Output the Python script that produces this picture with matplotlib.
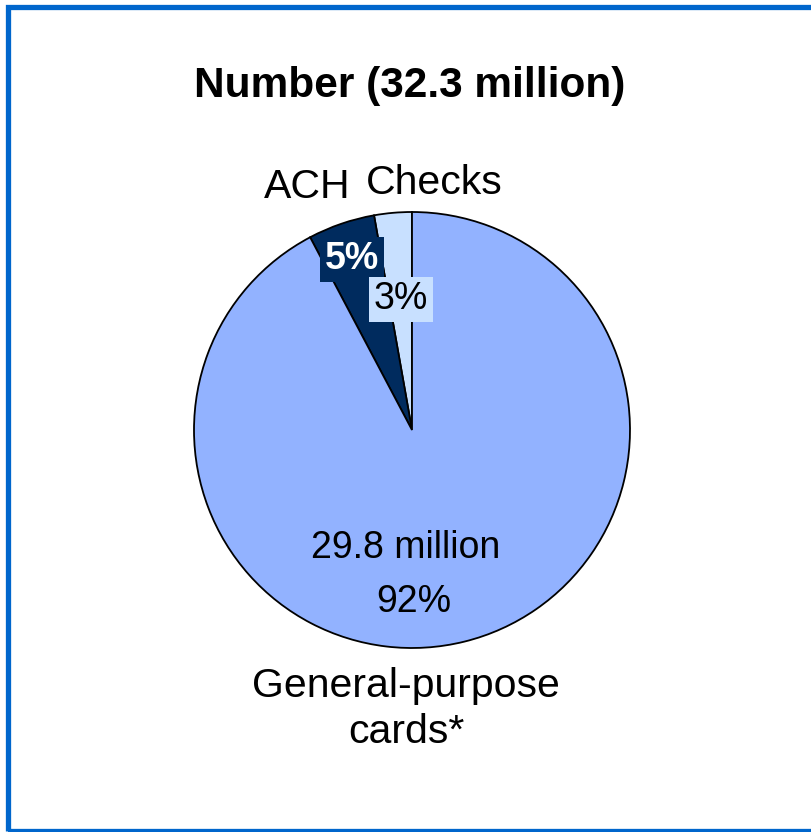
import matplotlib.pyplot as plt
from matplotlib.patches import Rectangle

plt.rcParams['font.family'] = ['Liberation Sans', 'DejaVu Sans']

# Payment counts, millions (drawn counter-clockwise from 12 o'clock)
categories = ['Checks', 'ACH', 'General-purpose\ncards*']
values = [0.9, 1.6, 29.8]
colors = ['#C8E0FF', '#002B5E', '#92B2FF']
total_label = 'Number (32.3 million)'

W, H = 812, 832
fig = plt.figure(figsize=(W / 100, H / 100), dpi=100)

# blue frame around the panel
fig.patches.append(Rectangle((8.5 / W, 1.5 / H), (W + 10) / W, (H - 8) / H,
                             transform=fig.transFigure, fill=False,
                             edgecolor='#0066CC', linewidth=3.8))

# pie centred at (412, 430) px with radius 218 px
cx, cy, r = 412, 430, 218
ax = fig.add_axes([(cx - r) / W, 1 - (cy + r) / H, 2 * r / W, 2 * r / H])
ax.pie(values, colors=colors, startangle=90, counterclock=True,
       wedgeprops=dict(edgecolor='black', linewidth=1.3))
ax.set_xlim(-1, 1)
ax.set_ylim(-1, 1)
ax.set_aspect('equal')
ax.axis('off')

total = sum(values)
pct = [f'{v / total * 100:.0f}%' for v in values]

def px(x, y):
    return (x - cx) / r, (cy - y) / r

fs_in = 27
fs_out = 29.5
ax.text(*px(352, 259), pct[1], ha='center', va='center', fontsize=fs_in,
        fontweight='bold', color='white', clip_on=False,
        bbox=dict(boxstyle='square,pad=0.12', fc=colors[1], ec='none'))
ax.text(*px(401, 299), pct[0], ha='center', va='center', fontsize=fs_in,
        color='black', clip_on=False,
        bbox=dict(boxstyle='square,pad=0.12', fc=colors[0], ec='none'))
ax.text(*px(406, 548), f'{values[2]} million', ha='center', va='center',
        fontsize=fs_in)
ax.text(*px(414, 602), pct[2], ha='center', va='center', fontsize=fs_in)

ax.text(*px(307, 187), categories[1], ha='center', va='center',
        fontsize=fs_out, clip_on=False)
ax.text(*px(434, 183), categories[0], ha='center', va='center',
        fontsize=fs_out, clip_on=False)
ax.text(*px(406, 709), categories[2], ha='center', va='center',
        fontsize=fs_out, linespacing=1.28, clip_on=False)

fig.text(410 / W, 1 - 86 / H, total_label, ha='center', va='center',
         fontsize=30.5, fontweight='bold')

fig.savefig('out.png', dpi=100)
